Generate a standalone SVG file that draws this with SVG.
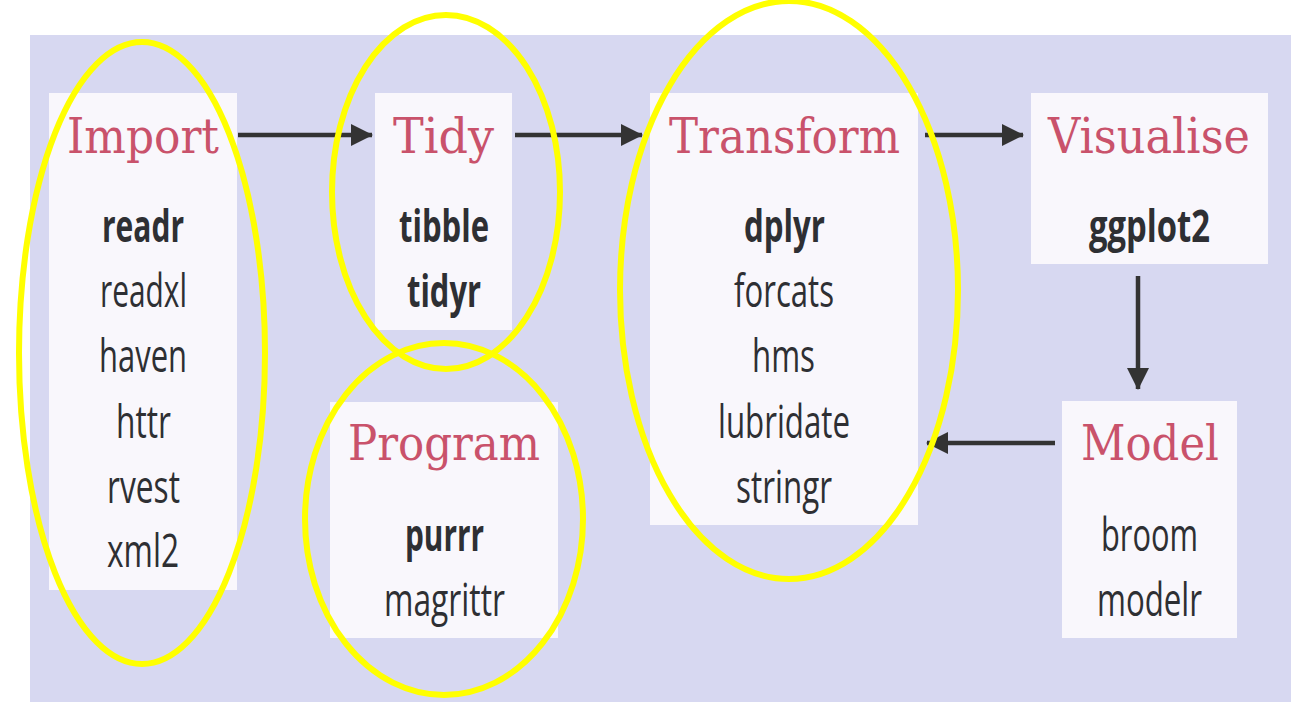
<svg xmlns="http://www.w3.org/2000/svg" width="1315" height="728" viewBox="0 0 1315 728">
<style>
.bg{fill:#d7d8f1}
.box{fill:#f9f7fc}
.title{font-family:"DejaVu Serif","Liberation Serif",serif;font-size:48px;fill:#c9526b}
.pkg{font-family:"Open Sans","Liberation Sans",sans-serif;font-size:45px;fill:#2e2f33}
.b{font-weight:bold}
.conn{stroke:#333;stroke-width:4.5;fill:none}
.ring{fill:none;stroke:#ffff00;stroke-width:6}
</style>
<defs>
<marker id="ah" viewBox="0 0 22 22" refX="21" refY="11" markerWidth="22" markerHeight="22" markerUnits="userSpaceOnUse" orient="auto">
<path d="M0,0 L22,11 L0,22 Z" fill="#333"/>
</marker>
</defs>
<rect width="1315" height="728" fill="#ffffff"/>
<rect class="bg" x="30" y="35" width="1261" height="667"/>

<g id="import">
<rect class="box" x="49" y="93" width="188" height="497"/>
<text class="title" x="67" y="153" textLength="152" lengthAdjust="spacingAndGlyphs">Import</text>
<text class="pkg b" x="102" y="242" textLength="82" lengthAdjust="spacingAndGlyphs">readr</text>
<text class="pkg" x="100" y="307" textLength="87" lengthAdjust="spacingAndGlyphs">readxl</text>
<text class="pkg" x="99" y="372" textLength="88" lengthAdjust="spacingAndGlyphs">haven</text>
<text class="pkg" x="116" y="438" textLength="55" lengthAdjust="spacingAndGlyphs">httr</text>
<text class="pkg" x="107" y="503" textLength="73" lengthAdjust="spacingAndGlyphs">rvest</text>
<text class="pkg" x="107" y="567" textLength="72" lengthAdjust="spacingAndGlyphs">xml2</text>
</g>

<g id="tidy">
<rect class="box" x="375" y="93" width="137" height="237"/>
<text class="title" x="393" y="153" textLength="101" lengthAdjust="spacingAndGlyphs">Tidy</text>
<text class="pkg b" x="399" y="242" textLength="90" lengthAdjust="spacingAndGlyphs">tibble</text>
<text class="pkg b" x="407" y="307" textLength="74" lengthAdjust="spacingAndGlyphs">tidyr</text>
</g>

<g id="program">
<rect class="box" x="330" y="402" width="228" height="236"/>
<text class="title" x="348" y="460" textLength="192" lengthAdjust="spacingAndGlyphs">Program</text>
<text class="pkg b" x="405" y="551" textLength="79" lengthAdjust="spacingAndGlyphs">purrr</text>
<text class="pkg" x="384" y="616" textLength="121" lengthAdjust="spacingAndGlyphs">magrittr</text>
</g>

<g id="transform">
<rect class="box" x="650" y="93" width="268" height="432"/>
<text class="title" x="669" y="153" textLength="231" lengthAdjust="spacingAndGlyphs">Transform</text>
<text class="pkg b" x="744" y="242" textLength="81" lengthAdjust="spacingAndGlyphs">dplyr</text>
<text class="pkg" x="734" y="307" textLength="100" lengthAdjust="spacingAndGlyphs">forcats</text>
<text class="pkg" x="752" y="372" textLength="63" lengthAdjust="spacingAndGlyphs">hms</text>
<text class="pkg" x="718" y="438" textLength="132" lengthAdjust="spacingAndGlyphs">lubridate</text>
<text class="pkg" x="736" y="503" textLength="96" lengthAdjust="spacingAndGlyphs">stringr</text>
</g>

<g id="visualise">
<rect class="box" x="1031" y="93" width="237" height="171"/>
<text class="title" x="1048" y="153" textLength="202" lengthAdjust="spacingAndGlyphs">Visualise</text>
<text class="pkg b" x="1089" y="242" textLength="121" lengthAdjust="spacingAndGlyphs">ggplot2</text>
</g>

<g id="model">
<rect class="box" x="1062" y="401" width="175" height="237"/>
<text class="title" x="1081" y="460" textLength="138" lengthAdjust="spacingAndGlyphs">Model</text>
<text class="pkg" x="1101" y="551" textLength="97" lengthAdjust="spacingAndGlyphs">broom</text>
<text class="pkg" x="1097" y="616" textLength="105" lengthAdjust="spacingAndGlyphs">modelr</text>
</g>

<g id="connectors">
<line class="conn" x1="238" y1="135" x2="372" y2="135" marker-end="url(#ah)"/>
<line class="conn" x1="515" y1="135" x2="642" y2="135" marker-end="url(#ah)"/>
<line class="conn" x1="925" y1="135" x2="1023" y2="135" marker-end="url(#ah)"/>
<line class="conn" x1="1138" y1="276" x2="1138" y2="389" marker-end="url(#ah)"/>
<line class="conn" x1="1055" y1="443" x2="927" y2="443" marker-end="url(#ah)"/>
</g>

<g id="highlights">
<ellipse class="ring" cx="142" cy="353" rx="123" ry="311"/>
<ellipse class="ring" cx="446" cy="192" rx="114" ry="177"/>
<ellipse class="ring" cx="444" cy="519" rx="139" ry="176"/>
<ellipse class="ring" cx="789" cy="290" rx="169" ry="289"/>
</g>
</svg>
